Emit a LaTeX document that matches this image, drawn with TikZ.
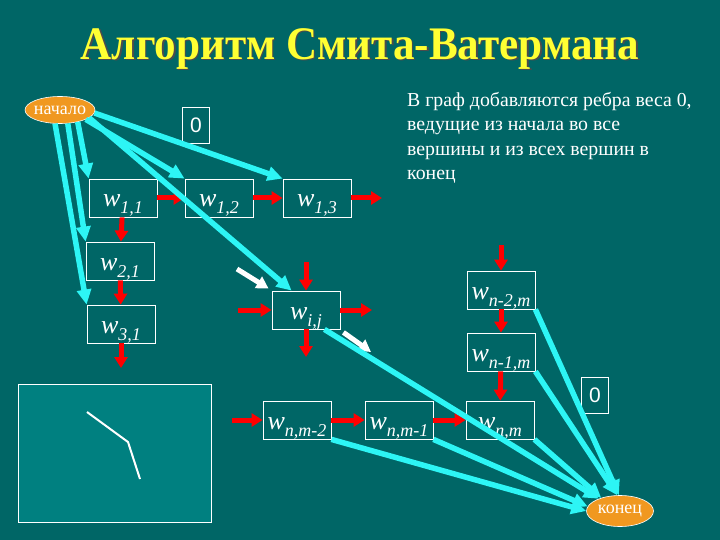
\documentclass[tikz,border=0pt]{standalone}
\usepackage{fontspec}
\setmainfont{Liberation Serif}
\newfontfamily\zerofont{Liberation Sans}
\usetikzlibrary{arrows.meta,calc,shapes.geometric}
\definecolor{bgteal}{RGB}{0,102,102}
\definecolor{boxteal}{RGB}{0,128,128}
\definecolor{cyanline}{RGB}{45,245,245}
\definecolor{termorange}{RGB}{240,152,32}
\definecolor{titleyellow}{RGB}{255,255,51}
\newcommand{\wlab}[1]{{\fontsize{26}{26}\selectfont\itshape w}\raisebox{-7pt}{\fontsize{18}{18}\selectfont\itshape #1}}

\begin{document}
\begin{tikzpicture}[x=1pt,y=-1pt,
  cell/.style={draw=white,line width=0.8pt,minimum width=68pt,minimum height=38pt,inner sep=0pt,text height=18pt,text depth=0pt,text=white},
  zerobox/.style={draw=white,line width=0.8pt,minimum width=27pt,minimum height=36pt,inner sep=0pt,text=white,font=\zerofont\fontsize{21}{21}\selectfont},
  term/.style={ellipse,draw=white,line width=0.6pt,fill=termorange,text=white,inner xsep=-4pt,inner ysep=0pt,font=\fontsize{18}{18}\selectfont},
  zeroedge/.style={cyanline,line width=5.5pt,-{Triangle[length=15pt,width=14pt]}},
  stepedge/.style={red,line width=5pt,-{Triangle[length=11pt,width=13pt]}},
  traceedge/.style={white,line width=5pt,-{Triangle[length=12pt,width=13pt]}}]
\useasboundingbox (0,0) rectangle (720,540);
\fill[bgteal] (0,0) rectangle (720,540);
\node[text=black!70,font=\bfseries\fontsize{44}{44}\selectfont] (titleshadow) at (361.5,50.5) {\scalebox{0.98}[1.06]{Алгоритм Смита-Ватермана}};
\node[text=titleyellow,font=\bfseries\fontsize{44}{44}\selectfont] (title) at (360,49) {\scalebox{0.98}[1.06]{Алгоритм Смита-Ватермана}};
\node[anchor=north west,align=left,inner sep=0pt,text=white,font=\fontsize{19.8}{24.5}\selectfont] (note) at (407,92) {В граф добавляются ребра веса 0,\\ведущие из начала во все\\вершины и из всех вершин в\\конец};
\draw[draw=white,fill=boxteal,line width=0.8pt] (18,384) rectangle (211,522);
\draw[white,line width=2pt] (87,412) -- (128,442) -- (140,479);
\node[term,minimum width=70pt,minimum height=27pt] (start) at (60,110) {начало};
\node[term,minimum width=67pt,minimum height=31pt] (finish) at (620,511) {конец};
\node[zerobox] (zerotop) at (196,125) {0};
\node[zerobox] (zeroend) at (595,395) {0};
\node[cell] (w11) at (123,198) {\wlab{1,1}};
\node[cell] (w12) at (219,198) {\wlab{1,2}};
\node[cell] (w13) at (317,198) {\wlab{1,3}};
\node[cell] (w21) at (120,261) {\wlab{2,1}};
\node[cell] (w31) at (121,324) {\wlab{3,1}};
\node[cell] (wij) at (306,310) {\wlab{i,j}};
\node[cell] (wn2m) at (501,290) {\wlab{n-2,m}};
\node[cell] (wn1m) at (501,352) {\wlab{n-1,m}};
\node[cell] (wnm2) at (297,420) {\wlab{n,m-2}};
\node[cell] (wnm1) at (399,420) {\wlab{n,m-1}};
\node[cell] (wnm) at (500,420) {\wlab{n,m}};
\coordinate (r13) at (382,198);
\coordinate (b31) at (121,368);
\coordinate (ijtop) at (306,262);
\coordinate (ijleft) at (238,310);
\coordinate (ijright) at (372,310);
\coordinate (ijbot) at (306,357);
\coordinate (tracein) at (237,269);
\coordinate (traceout) at (371,352);
\coordinate (n2top) at (501,245);
\coordinate (nmleft) at (232,420);
\draw[stepedge] (w11) -- (w12);
\draw[stepedge] (w12) -- (w13);
\draw[stepedge] (w13) -- (r13);
\draw[stepedge] (w11) -- (w21);
\draw[stepedge] (w21) -- (w31);
\draw[stepedge] (w31) -- (b31);
\draw[stepedge] (ijtop) -- (wij);
\draw[stepedge] (ijleft) -- (wij);
\draw[stepedge] (wij) -- (ijright);
\draw[stepedge] (wij) -- (ijbot);
\draw[stepedge] (n2top) -- (wn2m);
\draw[stepedge] (wn2m) -- (wn1m);
\draw[stepedge] (wn1m) -- (wnm);
\draw[stepedge] (nmleft) -- (wnm2);
\draw[stepedge] (wnm2) -- (wnm1);
\draw[stepedge] (wnm1) -- (wnm);
\draw[traceedge] (tracein) -- ($(wij.north west)+(-3,-2)$);
\draw[traceedge] ($(wij.south east)+(3,3)$) -- (traceout);
\draw[zeroedge] (start.-110) -- (w31.north west);
\draw[zeroedge] (start.-60) -- (w21.north west);
\draw[zeroedge] (start.-34) -- (w11.north west);
\draw[zeroedge] (start.-20) -- (w12.north west);
\draw[zeroedge] (start.-15) -- ($(wij.north west)+(20,0)$);
\draw[zeroedge] (start.-5) -- (w13.north west);
\draw[zeroedge] ($(wij.south east)+(-16,0)$) -- (finish.150);
\draw[zeroedge] (wnm2.south east) -- (finish.180);
\draw[zeroedge] (wnm1.south east) -- (finish.172);
\draw[zeroedge] (wnm.south east) -- (finish.145);
\draw[zeroedge] (wn1m.south east) -- (finish.100);
\draw[zeroedge] (wn2m.south east) -- (finish.94);
\end{tikzpicture}
\end{document}
